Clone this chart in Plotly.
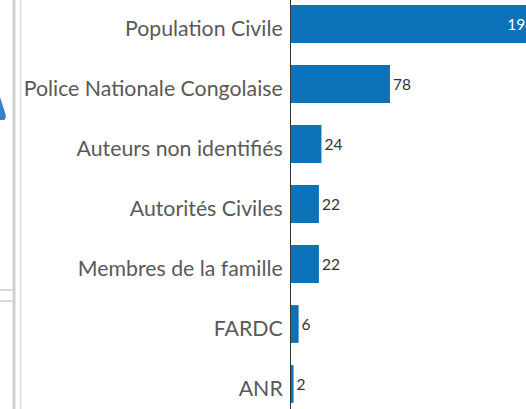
import plotly.graph_objects as go

categories = ["Population Civile", "Police Nationale Congolaise", "Auteurs non identifiés",
              "Autorités Civiles", "Membres de la famille", "FARDC", "ANR"]
values = [194, 78, 24, 22, 22, 6, 2]

positions = ["inside" if v == max(values) else "outside" for v in values]
text_colors = ["white" if v == max(values) else "#333333" for v in values]

L = 291.0
W = 526.0 - L
H = 409.0

def px(x):
    return (x - L) / W

def py(y):
    return 1 - y / H

fig = go.Figure(go.Bar(
    y=categories, x=values, orientation="h",
    marker=dict(color="#0b72ba", line=dict(width=0)),
    width=0.63,
    text=[str(v) for v in values],
    textposition=positions,
    insidetextanchor="end",
    textfont=dict(family="Lato", size=15.5, color=text_colors),
    cliponaxis=True,
))

fig.update_layout(
    width=526, height=409,
    margin=dict(l=291, r=0, t=0, b=0),
    paper_bgcolor="white", plot_bgcolor="white",
    showlegend=False,
    font=dict(family="Lato"),
    xaxis=dict(range=[0, 185.2], visible=False, showgrid=False, zeroline=False),
    yaxis=dict(type="category", categoryorder="array", categoryarray=categories,
               range=[6.417, -0.4], showgrid=False, zeroline=False,
               showline=True, linecolor="#333333", linewidth=1,
               ticks="", ticklabelstandoff=3, ticklabelshift=-5,
               tickfont=dict(family="Lato", size=21.3, color="#595959")),
    shapes=[
        dict(type="line", xref="paper", yref="paper", x0=px(14), x1=px(14),
             y0=0, y1=1, line=dict(color="#d0d0d0", width=3)),
        dict(type="line", xref="paper", yref="paper", x0=px(20.5), x1=px(20.5),
             y0=0, y1=1, line=dict(color="#dcdcdc", width=1.5)),
        dict(type="line", xref="paper", yref="paper", x0=px(0), x1=px(13),
             y0=py(290), y1=py(290), line=dict(color="#d8d8d8", width=2)),
        dict(type="line", xref="paper", yref="paper", x0=px(0), x1=px(13),
             y0=py(301), y1=py(301), line=dict(color="#d8d8d8", width=2)),
        dict(type="path", xref="paper", yref="paper",
             path="M %f %f L %f %f L %f %f Q %f %f %f %f Z" % (
                 px(0), py(97),
                 px(0), py(120),
                 px(4), py(120),
                 px(6.5), py(119),
                 px(5.5), py(114)),
             fillcolor="#3a7fc9", line=dict(width=0)),
    ],
)

fig.write_html("out.html")
